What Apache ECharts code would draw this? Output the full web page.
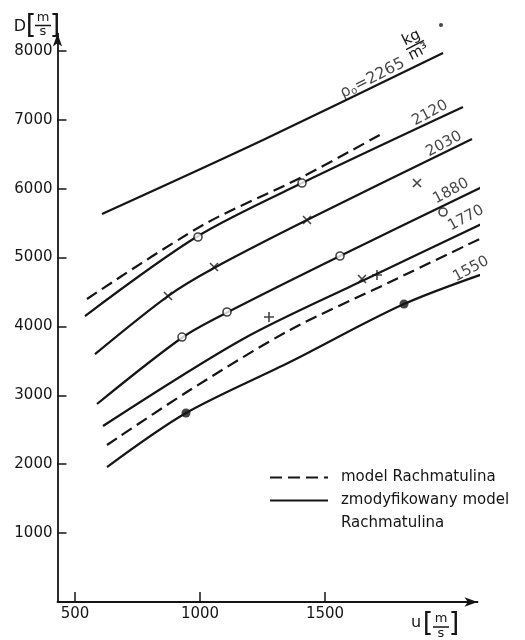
<!DOCTYPE html>
<html>
<head>
<meta charset="utf-8">
<script src="https://cdn.jsdelivr.net/npm/echarts@6/dist/echarts.min.js"></script>
<style>html,body{margin:0;padding:0;background:#fff}#c{width:525px;height:640px}</style>
</head>
<body>
<div id="c"></div>
<script>
// ---- data (u [m/s], D [m/s]) ----
const uTicks = [500, 1000, 1500];
const dTicks = [1000, 2000, 3000, 4000, 5000, 6000, 7000, 8000];

// modified Rachmatulin model (solid)
const c2265 = [[608, 5631], [1252, 6705], [1972, 7968]];
const c2120 = [[540, 4151], [992, 5312], [1408, 6081], [2052, 7184]];
const c2030 = [[580, 3599], [872, 4441], [1056, 4848], [1428, 5544], [2088, 6720]];
const c1880 = [[588, 2874], [932, 3846], [1112, 4209], [1560, 5022], [2128, 6023]];
const c1770 = [[612, 2554], [1172, 3817], [1648, 4659], [2160, 5544]];
const c1550 = [[628, 1959], [944, 2743], [1360, 3483], [1816, 4325], [2200, 4848]];
// Rachmatulin model (dashed)
const m2120 = [[548, 4398], [1012, 5472], [1408, 6168], [1740, 6822]];
const m1770 = [[628, 2279], [960, 3077], [1360, 3948], [1760, 4644], [2168, 5356]];

// measured points
const ptCircle = [[992, 5298], [1408, 6081], [928, 3846], [1108, 4209], [1560, 5022], [1972, 5660]];
const ptCross = [[872, 4441], [1056, 4862], [1428, 5544], [1868, 6081], [1648, 4688]];
const ptPlus = [[1276, 4137], [1708, 4746]];
const ptDot = [[944, 2743], [1816, 4325]];
const specks = [[1964, 8375]];

// curve labels
const curveLabels = [
  {name: '2120', value: [1920, 7097]},
  {name: '2030', value: [1976, 6647]},
  {name: '1880', value: [2004, 5965]},
  {name: '1770', value: [2064, 5573]},
  {name: '1550', value: [2084, 4833]}
];
const rhoLabel = [1690, 7600];
const unitLabel = [1860, 8084];

const FONT = 'DejaVu Sans';
const INK = '#151515';

function solid(data) {
  return {name: 'zmodyfikowany model', type: 'line', data: data, smooth: 0.3,
    symbol: 'none', clip: false, lineStyle: {color: INK, width: 2.2}, z: 2};
}
function dashed(data) {
  return {name: 'model Rachmatulina', type: 'line', data: data, smooth: 0.3,
    symbol: 'none', clip: false, lineStyle: {color: INK, width: 2.2, type: [12, 6]}, z: 2};
}

const axisTitles = [
  {type: 'text', x: 20, y: 27, style: {text: 'D', font: '16px ' + FONT, fill: INK, align: 'center', verticalAlign: 'middle'}},
  {type: 'text', x: 31, y: 26, style: {text: '[', font: '27px ' + FONT, fill: INK, align: 'center', verticalAlign: 'middle'}},
  {type: 'text', x: 43, y: 18, style: {text: 'm', font: '13px ' + FONT, fill: INK, align: 'center', verticalAlign: 'middle'}},
  {type: 'line', shape: {x1: 35, y1: 25.5, x2: 51, y2: 25.5}, style: {stroke: INK, lineWidth: 1.5}},
  {type: 'text', x: 43, y: 32, style: {text: 's', font: '13px ' + FONT, fill: INK, align: 'center', verticalAlign: 'middle'}},
  {type: 'text', x: 55, y: 26, style: {text: ']', font: '27px ' + FONT, fill: INK, align: 'center', verticalAlign: 'middle'}},

  {type: 'text', x: 416, y: 623, style: {text: 'u', font: '16px ' + FONT, fill: INK, align: 'center', verticalAlign: 'middle'}},
  {type: 'text', x: 428, y: 624, style: {text: '[', font: '27px ' + FONT, fill: INK, align: 'center', verticalAlign: 'middle'}},
  {type: 'text', x: 441, y: 619, style: {text: 'm', font: '13px ' + FONT, fill: INK, align: 'center', verticalAlign: 'middle'}},
  {type: 'line', shape: {x1: 433, y1: 627, x2: 449, y2: 627}, style: {stroke: INK, lineWidth: 1.5}},
  {type: 'text', x: 441, y: 634, style: {text: 's', font: '13px ' + FONT, fill: INK, align: 'center', verticalAlign: 'middle'}},
  {type: 'text', x: 454, y: 624, style: {text: ']', font: '27px ' + FONT, fill: INK, align: 'center', verticalAlign: 'middle'}}
];

const chart = echarts.init(document.getElementById('c'), null, {renderer: 'canvas'});
chart.setOption({
  animation: false,
  backgroundColor: '#fff',
  grid: {left: 57.5, right: 47.5, top: 33.6, bottom: 38},
  xAxis: {
    type: 'value', min: 430, max: 2110,
    splitLine: {show: false},
    axisLine: {lineStyle: {color: INK, width: 1.8}, symbol: ['none', 'arrow'], symbolSize: [7, 13]},
    axisTick: {inside: true, length: 10, lineStyle: {color: INK, width: 1.5}, customValues: uTicks},
    axisLabel: {customValues: uTicks, margin: 5, color: INK, fontFamily: FONT, fontSize: 15,
      formatter: function (v) { return String(v); }}
  },
  yAxis: {
    type: 'value', min: 0, max: 8250,
    splitLine: {show: false},
    axisLine: {lineStyle: {color: INK, width: 1.8}, symbol: ['none', 'arrow'], symbolSize: [7, 13]},
    axisTick: {inside: true, length: 9, lineStyle: {color: INK, width: 1.5}, customValues: dTicks},
    axisLabel: {customValues: dTicks, margin: 5, color: INK, fontFamily: FONT, fontSize: 15,
      formatter: function (v) { return String(v); }}
  },
  legend: {
    orient: 'vertical', left: 264, top: 465, itemWidth: 58, itemHeight: 12, itemGap: 8,
    selectedMode: false,
    itemStyle: {opacity: 0},
    textStyle: {fontFamily: FONT, fontSize: 15, color: INK, padding: [0, 0, 0, 8]},
    data: [
      {name: 'model Rachmatulina'},
      {name: 'zmodyfikowany model'},
      {name: 'Rachmatulina', icon: 'rect'}
    ]
  },
  graphic: axisTitles,
  series: [
    solid(c2265), solid(c2120), solid(c2030), solid(c1880), solid(c1770), solid(c1550),
    dashed(m2120), dashed(m1770),
    {name: 'Rachmatulina', type: 'line', data: [], symbol: 'none', lineStyle: {width: 0, opacity: 0}},
    {name: 'circles', type: 'scatter', data: ptCircle, symbol: 'circle', symbolSize: 8, z: 5,
      itemStyle: {color: '#fff', borderColor: INK, borderWidth: 1.6}},
    {name: 'crosses', type: 'scatter', data: ptCross, symbol: 'path://M0,0L10,10M10,0L0,10', symbolSize: 8, z: 5,
      itemStyle: {color: 'rgba(0,0,0,0)', borderColor: INK, borderWidth: 1.6}},
    {name: 'plus', type: 'scatter', data: ptPlus, symbol: 'path://M5,0L5,10M0,5L10,5', symbolSize: 10, z: 5,
      itemStyle: {color: 'rgba(0,0,0,0)', borderColor: INK, borderWidth: 1.6}},
    {name: 'dots', type: 'scatter', data: ptDot, symbol: 'circle', symbolSize: 9, z: 5,
      itemStyle: {color: INK}},
    {name: 'specks', type: 'scatter', data: specks, symbol: 'circle', symbolSize: 4, clip: false,
      itemStyle: {color: INK}},
    {name: 'labels', type: 'scatter', data: curveLabels, symbolSize: 0, clip: false, silent: true, z: 6,
      label: {show: true, position: 'inside', formatter: '{b}', rotate: 28, color: INK,
        fontFamily: FONT, fontSize: 15}},
    {name: 'rho', type: 'scatter', data: [{name: 'rho', value: rhoLabel}], symbolSize: 0, clip: false, silent: true, z: 6,
      label: {show: true, position: 'inside', rotate: 27, formatter: '{r|ρ}{s|o}{t|=2265}',
        rich: {
          r: {fontFamily: FONT, fontSize: 16, color: INK},
          s: {fontFamily: FONT, fontSize: 10, color: INK, verticalAlign: 'bottom', padding: [6, 0, 0, 0]},
          t: {fontFamily: FONT, fontSize: 16, color: INK}
        }}}
  ]
});

// unit fraction kg/m³, anchored at a data coordinate and rotated like the curve
const up = chart.convertToPixel({gridIndex: 0}, unitLabel);
chart.setOption({
  graphic: axisTitles.concat([{
    type: 'group', x: up[0], y: up[1], rotation: 27 * Math.PI / 180,
    children: [
      {type: 'text', x: 0, y: -8, style: {text: 'kg', font: '15px ' + FONT, fill: INK, align: 'center', verticalAlign: 'middle'}},
      {type: 'line', shape: {x1: -10, y1: 0, x2: 10, y2: 0}, style: {stroke: INK, lineWidth: 1.4}},
      {type: 'text', x: 0, y: 8, style: {text: 'm³', font: '15px ' + FONT, fill: INK, align: 'center', verticalAlign: 'middle'}}
    ]
  }])
});
</script>
</body>
</html>
